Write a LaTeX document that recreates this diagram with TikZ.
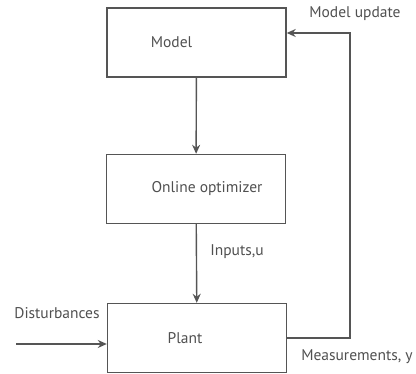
\documentclass[tikz,border=0pt]{standalone}
\usepackage{fontspec}
\setsansfont{PT Sans}
\usepackage{tikz}
\usetikzlibrary{arrows.meta}
\definecolor{linegray}{HTML}{555555}
\definecolor{textgray}{HTML}{505050}

\begin{document}
\begin{tikzpicture}[x=1pt,y=-1pt,font=\sffamily\fontsize{15.5}{18}\selectfont,text=textgray]
                \useasboundingbox (0,0) rectangle (416,374);
                \begin{scope}[block/.style={draw=linegray, line width=1.4pt, rectangle, minimum width=179pt, minimum height=69pt, inner sep=0}]
                        \node[block] (Model) at (196.5,42.5) [label={[xshift=-25pt]center:Model}] {};
                        \node[block] (Opt) at (196,189) [label={[xshift=11pt]center:Online optimizer}] {};
                        \node[block] (Plant) at (197,338) [label={[xshift=-12pt]center:Plant}] {};
                \end{scope}
                \begin{scope}[every node/.style={inner sep=1}]
                        \node (Inputs) at (237,252) {Inputs,u};
                        \node (Dist) at (57,313) {Disturbances};
                        \node (Update) at (355,14) {Model update};
                        \node (Meas) at (357,357) {Measurements, y};
                        \coordinate (DistIn) at (16,344);
                        \coordinate (Corner) at (350,33);
                \end{scope}
                \begin{scope}[conn/.style={draw=linegray, line width=1.4pt, ->, >={Stealth[length=9pt,width=8pt]}}]
                        \draw[conn] (Model) -- (Opt);
                        \draw[conn] (Opt) -- (Plant);
                        \draw[conn] (DistIn) -- (DistIn -| Plant.west);
                        \draw[conn] (Plant.east) -| (Corner) -- (Corner -| Model.east);
                \end{scope}
        \end{tikzpicture}
\end{document}
